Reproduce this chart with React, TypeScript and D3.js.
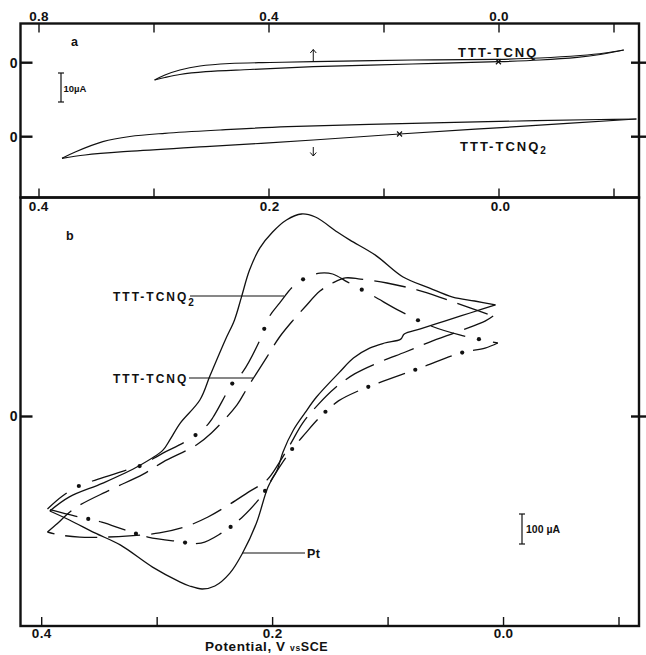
import React, { useEffect, useRef } from 'react';
import * as d3 from 'd3';

// ---- data: [potential (V vs SCE), current (µA)] ----

// panel a, small currents, each trace on its own zero
const aTcnqUpper = [[0.599,-5.97],[0.581,-4.24],[0.555,-2.52],[0.520,-1.14],[0.468,-0.28],[0.398,0.07],[0.323,0.34],[0.151,0.93],[0.003,1.17],[-0.071,1.62],[-0.141,2.48],[-0.184,3.34],[-0.217,4.38]];
const aTcnqLower = [[-0.217,4.38],[-0.176,2.83],[-0.136,1.86],[-0.071,0.93],[0.001,0.34],[0.151,-0.45],[0.323,-1.38],[0.433,-2.34],[0.510,-3.10],[0.555,-4.07],[0.581,-5.10],[0.599,-5.97]];
const aTcnq2Upper = [[0.760,-7.45],[0.737,-5.28],[0.689,-1.72],[0.642,0.07],[0.581,1.17],[0.485,2.31],[0.367,3.45],[0.151,4.62],[-0.064,5.52],[-0.176,5.93],[-0.239,6.10]];
const aTcnq2Lower = [[-0.239,6.10],[-0.037,3.55],[0.173,0.93],[0.323,-1.14],[0.510,-3.45],[0.653,-5.17],[0.720,-6.31],[0.760,-7.45]];
const aStartTcnq = [0.001, 0.34];
const aStartTcnq2 = [0.173, 0.93];
const aArrowV = 0.323;

// panel b
const ptUpper = [[0.393,-315],[0.376,-268],[0.347,-222],[0.316,-165],[0.295,-112],[0.289,-78],[0.280,-22],[0.263,55],[0.254,138],[0.241,255],[0.233,322],[0.227,398],[0.220,488],[0.211,562],[0.200,615],[0.188,655],[0.175,675],[0.163,665],[0.144,615],[0.133,588],[0.111,538],[0.087,465],[0.064,428],[0.044,398],[0.025,385],[0.007,372]];
const ptLower = [[0.007,372],[0.029,345],[0.051,318],[0.072,292],[0.086,275],[0.089,258],[0.103,245],[0.116,228],[0.130,195],[0.142,148],[0.162,65],[0.172,12],[0.182,-45],[0.191,-118],[0.196,-178],[0.204,-235],[0.214,-355],[0.226,-455],[0.237,-522],[0.250,-565],[0.261,-575],[0.272,-565],[0.280,-552],[0.304,-502],[0.332,-428],[0.354,-388],[0.376,-345],[0.393,-315]];
const tcnqUpper = [[0.395,-385],[0.388,-362],[0.371,-305],[0.341,-245],[0.312,-192],[0.295,-152],[0.266,-95],[0.253,-55],[0.231,38],[0.222,95],[0.205,198],[0.194,265],[0.182,322],[0.172,365],[0.159,418],[0.148,445],[0.137,462],[0.124,458],[0.101,445],[0.075,422],[0.051,392],[0.029,362],[0.009,335]];
const tcnqLower = [[0.009,335],[0.016,318],[0.038,285],[0.064,248],[0.085,215],[0.107,182],[0.129,142],[0.146,95],[0.161,38],[0.174,-22],[0.185,-95],[0.194,-152],[0.205,-212],[0.221,-252],[0.237,-292],[0.256,-335],[0.276,-368],[0.298,-388],[0.324,-398],[0.345,-402],[0.367,-402],[0.384,-395],[0.395,-385]];
const tcnq2Upper = [[0.395,-308],[0.382,-265],[0.368,-232],[0.356,-215],[0.326,-178],[0.315,-165],[0.295,-122],[0.276,-85],[0.259,-38],[0.252,-5],[0.234,115],[0.226,148],[0.211,255],[0.203,332],[0.194,378],[0.181,438],[0.168,468],[0.159,478],[0.148,475],[0.135,448],[0.113,402],[0.090,352],[0.063,302],[0.038,272],[0.014,252],[0.005,245]];
const tcnq2Lower = [[0.005,245],[0.016,228],[0.037,212],[0.072,162],[0.108,112],[0.126,85],[0.143,52],[0.159,-2],[0.172,-58],[0.185,-118],[0.199,-198],[0.209,-262],[0.227,-338],[0.244,-388],[0.262,-422],[0.285,-415],[0.308,-402],[0.328,-378],[0.348,-352],[0.371,-332],[0.395,-308]];

const aTicks = [0.8, 0.6, 0.4, 0.2, 0.0, -0.2];
const aTickLabels = [0.8, 0.4, 0.0];
const bTicks = [0.4, 0.3, 0.2, 0.1, 0.0, -0.1];
const bTickLabels = [0.4, 0.2, 0.0];

const W = 646, H = 655;
const FONT = "'Liberation Sans', Arial, Helvetica, sans-serif";

export default function App() {
  const ref = useRef<SVGSVGElement>(null);

  useEffect(() => {
    const svg = d3.select(ref.current);
    svg.selectAll('*').remove();

    const L = 20.5, R = 639, aTop = 23.5, mid = 197.5, bBot = 626;

    const xa = d3.scaleLinear().domain([0.8, -0.2]).range([39, 614]);
    const yaT = d3.scaleLinear().domain([0, 10]).range([62.7, 33.7]);
    const yaT2 = d3.scaleLinear().domain([0, 10]).range([136.7, 107.7]);
    const xb = d3.scaleLinear().domain([0.4, -0.1]).range([41.7, 619]);
    const yb = d3.scaleLinear().domain([0, 100]).range([416.5, 386.5]);

    const fmt = d3.format('.1f');

    const txt = (x: number, y: number, s: string, size: number, anchor = 'start', ls = 0) =>
      svg.append('text').attr('x', x).attr('y', y).attr('font-family', FONT)
        .attr('font-weight', 'bold').attr('font-size', size).attr('text-anchor', anchor)
        .attr('letter-spacing', ls).attr('fill', '#111').text(s);

    const seg = (x1: number, y1: number, x2: number, y2: number, w = 1.2) =>
      svg.append('line').attr('x1', x1).attr('y1', y1).attr('x2', x2).attr('y2', y2)
        .attr('stroke', '#111').attr('stroke-width', w);

    // frames
    svg.append('rect').attr('x', L).attr('y', aTop).attr('width', R - L).attr('height', mid - aTop)
      .attr('fill', 'none').attr('stroke', '#111').attr('stroke-width', 2.4);
    svg.append('rect').attr('x', L).attr('y', mid).attr('width', R - L).attr('height', bBot - mid)
      .attr('fill', 'none').attr('stroke', '#111').attr('stroke-width', 2.4);

    // ticks panel a (top down, bottom up)
    aTicks.forEach(v => {
      seg(xa(v), aTop, xa(v), aTop + 9, 1.4);
      seg(xa(v), mid, xa(v), mid - 9, 1.4);
    });
    aTickLabels.forEach(v => txt(xa(v), 21, fmt(v), 13.5, 'middle', 0.3));
    bTicks.forEach(v => seg(xb(v), bBot, xb(v), bBot - 9, 1.4));
    bTickLabels.forEach(v => {
      txt(xb(v), 637.5, fmt(v), 13.5, 'middle', 0.3);
      txt(xb(v) - 3, 210.5, fmt(v), 13.5, 'middle', 0.3);
    });

    // zero ticks
    [yaT(0), yaT2(0), yb(0)].forEach(y => {
      seg(L, y, L + 12, y, 2.4);
      seg(R - 8, y, W, y, 2.4);
      txt(17.5, y + 4.8, '0', 14, 'end');
    });

    const lineGen = (xs: any, ys: any) => d3.line<number[]>()
      .x(d => xs(d[0])).y(d => ys(d[1]))
      .curve(d3.curveCatmullRom.alpha(0.5));

    const branch = (data: number[][], xs: any, ys: any, w = 1.3) =>
      svg.append('path').attr('d', lineGen(xs, ys)(data)!)
        .attr('fill', 'none').attr('stroke', '#111').attr('stroke-width', w)
        .attr('stroke-linejoin', 'round');

    // panel a traces
    branch(aTcnqUpper, xa, yaT, 1.2);
    branch(aTcnqLower, xa, yaT, 1.2);
    branch(aTcnq2Upper, xa, yaT2, 1.2);
    branch(aTcnq2Lower, xa, yaT2, 1.2);

    const cross = (x: number, y: number) => {
      seg(x - 2.5, y - 2.5, x + 2.5, y + 2.5, 1.2);
      seg(x - 2.5, y + 2.5, x + 2.5, y - 2.5, 1.2);
    };
    cross(xa(aStartTcnq[0]), yaT(aStartTcnq[1]));
    cross(xa(aStartTcnq2[0]), yaT2(aStartTcnq2[1]));

    const ax = xa(aArrowV);
    seg(ax, 61, ax, 49.5, 1);
    seg(ax - 3, 53, ax, 49.5, 1); seg(ax + 3, 53, ax, 49.5, 1);
    seg(ax, 147, ax, 156, 1);
    seg(ax - 3, 152.5, ax, 156, 1); seg(ax + 3, 152.5, ax, 156, 1);

    txt(71, 46, 'a', 12.5);
    txt(458, 56.5, 'TTT-TCNQ', 13, 'start', 2);
    const t2a = txt(460, 151, 'TTT-TCNQ', 13, 'start', 2);
    t2a.append('tspan').attr('font-size', 10).attr('dy', 3).text('2');

    // 10 µA scale bar
    const barA = yaT(0) - yaT(10);
    seg(61, 73, 61, 73 + barA, 1.2);
    seg(58, 73, 64, 73, 1.2); seg(58, 73 + barA, 64, 73 + barA, 1.2);
    txt(63.5, 91.5, '10µA', 9.5);

    // panel b traces
    branch(ptUpper, xb, yb);
    branch(ptLower, xb, yb);
    branch(tcnqUpper, xb, yb).attr('stroke-dasharray', '32 11');
    branch(tcnqLower, xb, yb).attr('stroke-dasharray', '32 11');

    const dashDot = (data: number[][], period: number, first: number) => {
      const gap = period * 0.22;
      const p = branch(data, xb, yb)
        .attr('stroke-dasharray', `${period - 2 * gap} ${2 * gap}`)
        .attr('stroke-dashoffset', -(first + gap));
      const node = p.node() as SVGPathElement;
      const len = node.getTotalLength();
      for (let s = first; s < len - 4; s += period) {
        const pt = node.getPointAtLength(s);
        svg.append('circle').attr('cx', pt.x).attr('cy', pt.y).attr('r', 2.1).attr('fill', '#111');
      }
    };
    dashDot(tcnq2Upper, 64, 39);
    dashDot(tcnq2Lower, 50, 37);

    txt(66, 239.5, 'b', 12.5);

    const t2b = txt(113, 301, 'TTT-TCNQ', 12, 'start', 2);
    t2b.append('tspan').attr('font-size', 10).attr('dy', 5).text('2');
    seg(190, 296, 284, 296, 1.1);
    txt(113, 382.5, 'TTT-TCNQ', 12, 'start', 2);
    seg(189, 378, 253, 378, 1.1);
    seg(242, 553, 305, 553, 1.1);
    txt(307, 557.5, 'Pt', 12.5, 'start', 0.5);

    // 100 µA scale bar
    const barB = yb(0) - yb(100);
    seg(522, 514, 522, 514 + barB, 1.2);
    seg(519, 514, 525, 514, 1.2); seg(519, 514 + barB, 525, 514 + barB, 1.2);
    txt(526, 533, '100 µA', 10.5);

    // axis title
    const title = txt(205, 651, 'Potential, V ', 13.5, 'start', 0.6);
    title.append('tspan').attr('font-size', 8.5).text('vs');
    title.append('tspan').attr('font-size', 12.5).text('SCE');
  }, []);

  return (
    <svg ref={ref} width={W} height={H}
      style={{ position: 'absolute', left: 0, top: 0, background: '#fff' }} />
  );
}
